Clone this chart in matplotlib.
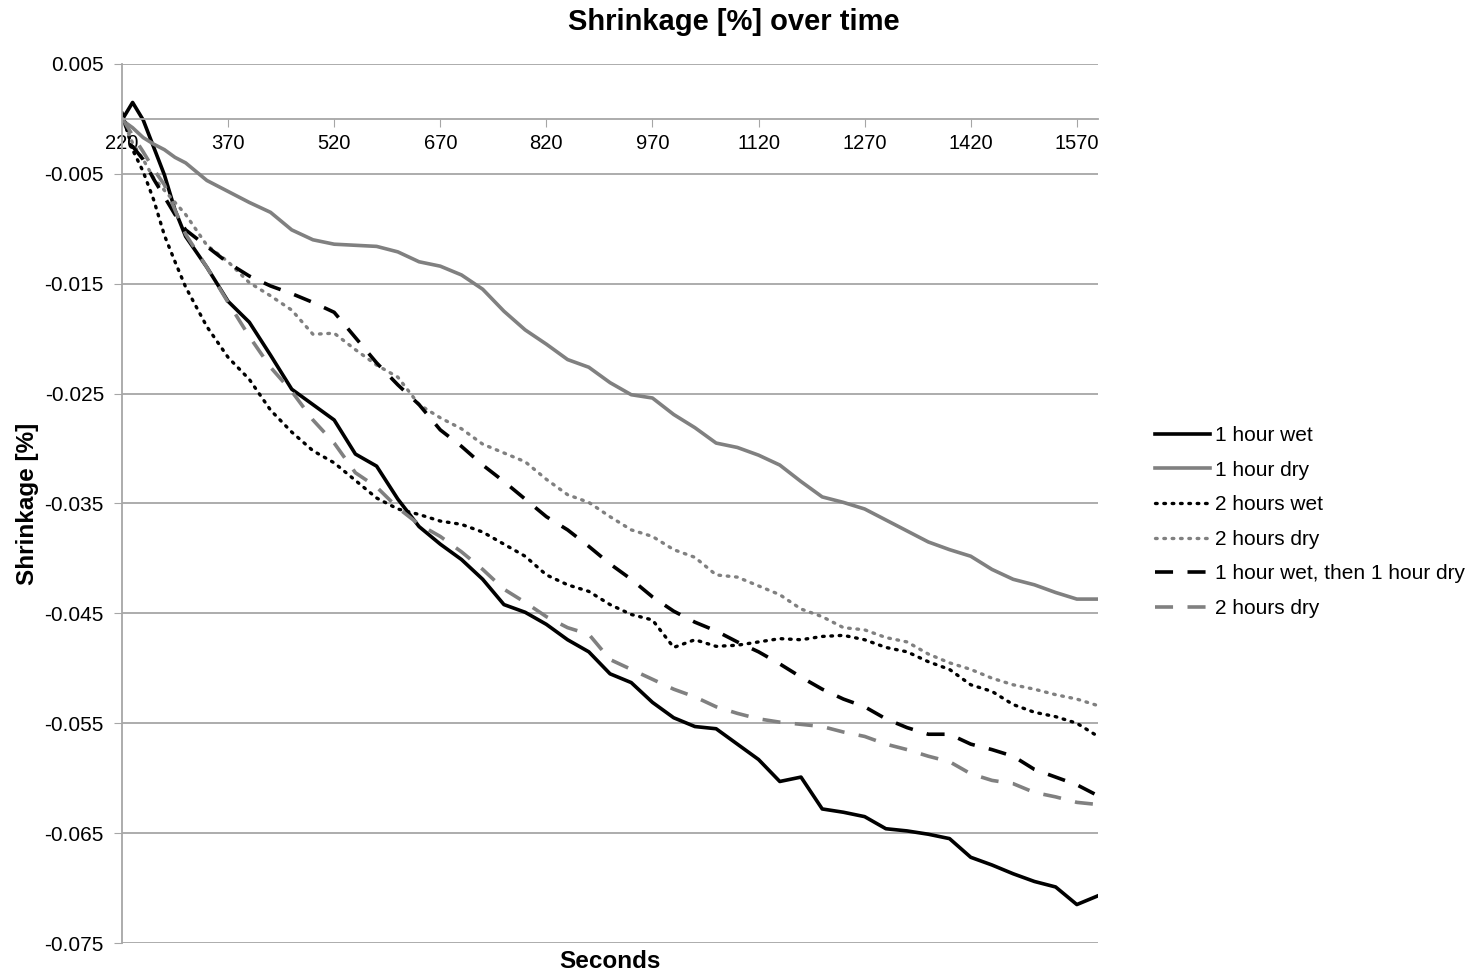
import numpy as np
import matplotlib.pyplot as plt

plt.rcParams['font.family'] = ['Liberation Sans', 'DejaVu Sans']

# time axis (seconds)
seconds = [220, 235, 250, 265, 280, 295, 310] + list(range(340, 1601, 30))

one_hour_wet = [-0.0001, 0.0015, -0.0001, -0.0026, -0.0051, -0.0083, -0.0107, -0.0135, -0.0166, -0.0185,
                -0.0215, -0.0246, -0.0260, -0.0274, -0.0305, -0.0316, -0.0346, -0.0371, -0.0387, -0.0401,
                -0.0419, -0.0442, -0.0449, -0.0460, -0.0474, -0.0485, -0.0505, -0.0513, -0.0531, -0.0545,
                -0.0553, -0.0555, -0.0569, -0.0583, -0.0603, -0.0599, -0.0628, -0.0631, -0.0635, -0.0646,
                -0.0648, -0.0651, -0.0655, -0.0672, -0.0679, -0.0687, -0.0694, -0.0699, -0.0715, -0.0707]

one_hour_dry = [-0.0001, -0.0008, -0.0017, -0.0023, -0.0028, -0.0035, -0.0040, -0.0056, -0.0066, -0.0076,
                -0.0085, -0.0101, -0.0110, -0.0114, -0.0115, -0.0116, -0.0121, -0.0130, -0.0134, -0.0142,
                -0.0155, -0.0175, -0.0192, -0.0205, -0.0219, -0.0226, -0.0240, -0.0251, -0.0254, -0.0269,
                -0.0281, -0.0295, -0.0299, -0.0306, -0.0315, -0.0330, -0.0344, -0.0349, -0.0355, -0.0365,
                -0.0375, -0.0385, -0.0392, -0.0398, -0.0410, -0.0419, -0.0424, -0.0431, -0.0437, -0.0437]

two_hours_wet = [0.0006, -0.0028, -0.0048, -0.0074, -0.0106, -0.0130, -0.0153, -0.0189, -0.0217, -0.0237,
                 -0.0265, -0.0285, -0.0302, -0.0313, -0.0329, -0.0345, -0.0355, -0.0360, -0.0366, -0.0369,
                 -0.0376, -0.0387, -0.0398, -0.0415, -0.0424, -0.0430, -0.0442, -0.0451, -0.0456, -0.0481,
                 -0.0474, -0.0480, -0.0479, -0.0476, -0.0473, -0.0474, -0.0471, -0.0470, -0.0474, -0.0481,
                 -0.0485, -0.0494, -0.0501, -0.0515, -0.0521, -0.0533, -0.0540, -0.0544, -0.0550, -0.0562]

two_hours_dry = [0.0001, -0.0022, -0.0037, -0.0054, -0.0065, -0.0076, -0.0087, -0.0115, -0.0130, -0.0149,
                 -0.0161, -0.0174, -0.0196, -0.0195, -0.0210, -0.0224, -0.0235, -0.0260, -0.0272, -0.0282,
                 -0.0296, -0.0304, -0.0312, -0.0328, -0.0342, -0.0349, -0.0362, -0.0374, -0.0380, -0.0392,
                 -0.0399, -0.0415, -0.0417, -0.0425, -0.0433, -0.0446, -0.0453, -0.0463, -0.0465, -0.0472,
                 -0.0476, -0.0487, -0.0495, -0.0501, -0.0509, -0.0515, -0.0519, -0.0524, -0.0528, -0.0534]

wet_then_dry = [0.0004, -0.0025, -0.0037, -0.0055, -0.0071, -0.0087, -0.0101, -0.0116, -0.0131, -0.0143,
                -0.0152, -0.0159, -0.0167, -0.0176, -0.0199, -0.0222, -0.0242, -0.0260, -0.0283, -0.0298,
                -0.0315, -0.0330, -0.0346, -0.0362, -0.0374, -0.0389, -0.0405, -0.0419, -0.0435, -0.0448,
                -0.0458, -0.0466, -0.0476, -0.0485, -0.0496, -0.0508, -0.0519, -0.0528, -0.0535, -0.0546,
                -0.0554, -0.0560, -0.0560, -0.0569, -0.0574, -0.0580, -0.0592, -0.0599, -0.0606, -0.0616]

two_hours_dry_b = [0.0001, -0.0015, -0.0030, -0.0046, -0.0060, -0.0083, -0.0105, -0.0135, -0.0167, -0.0198,
                   -0.0226, -0.0248, -0.0274, -0.0295, -0.0322, -0.0335, -0.0354, -0.0369, -0.0380, -0.0394,
                   -0.0410, -0.0428, -0.0440, -0.0453, -0.0463, -0.0469, -0.0492, -0.0501, -0.0510, -0.0519,
                   -0.0526, -0.0535, -0.0541, -0.0546, -0.0549, -0.0551, -0.0553, -0.0558, -0.0562, -0.0569,
                   -0.0574, -0.0580, -0.0585, -0.0596, -0.0602, -0.0605, -0.0613, -0.0617, -0.0622, -0.0624]

labels = ['1 hour wet', '1 hour dry', '2 hours wet', '2 hours dry',
          '1 hour wet, then 1 hour dry', '2 hours dry']

x_ticks = list(range(220, 1571, 150))
y_ticks = [0.005, -0.005, -0.015, -0.025, -0.035, -0.045, -0.055, -0.065, -0.075]

grey = '#808080'
grid_col = '#a6a6a6'
dots = (0, (0.5, 2.0))
dashes = (0, (5, 4))

fig = plt.figure(figsize=(14.68, 9.77), dpi=100)
ax = fig.add_axes([0.0831, 0.0348, 0.6649, 0.8997])

ax.plot(seconds, one_hour_wet, color='black', lw=2.6, label=labels[0])
ax.plot(seconds, one_hour_dry, color=grey, lw=2.6, label=labels[1])
ax.plot(seconds, two_hours_wet, color='black', lw=2.4, ls=dots,
        dash_capstyle='round', label=labels[2])
ax.plot(seconds, two_hours_dry, color=grey, lw=2.4, ls=dots,
        dash_capstyle='round', label=labels[3])
ax.plot(seconds, wet_then_dry, color='black', lw=2.6, ls=dashes, label=labels[4])
ax.plot(seconds, two_hours_dry_b, color=grey, lw=2.6, ls=dashes, label=labels[5])

ax.set_xlim(220, 1600)
ax.set_ylim(-0.075, 0.005)
ax.set_yticks(y_ticks)
ax.set_yticklabels(['%.3f' % v for v in y_ticks])
ax.set_xticks(x_ticks)
ax.set_xticklabels([str(v) for v in x_ticks])
ax.yaxis.grid(True, color=grid_col, lw=1.3)
ax.set_axisbelow(True)

ax.spines['top'].set_visible(False)
ax.spines['right'].set_visible(False)
ax.spines['left'].set_color(grid_col)
ax.spines['left'].set_linewidth(1.3)
ax.spines['bottom'].set_position(('data', 0))
ax.spines['bottom'].set_color(grid_col)
ax.spines['bottom'].set_linewidth(1.3)
ax.tick_params(axis='x', direction='out', length=6, color=grid_col, labelsize=14.5, pad=5)
ax.tick_params(axis='y', direction='out', length=6, color=grid_col, labelsize=15, pad=7)

# the x axis crosses at zero, so the axis title sits under the plot area
fig.text(0.4155, 0.0154, 'Seconds', ha='center', va='center',
         fontsize=17.5, fontweight='bold')
ax.set_ylabel('Shrinkage [%]', fontsize=17.5, fontweight='bold')
ax.yaxis.set_label_coords(-0.085, 0.5)
fig.text(0.5, 0.9775, 'Shrinkage [%] over time', ha='center', va='center',
         fontsize=21, fontweight='bold')

ax.legend(loc='center left', bbox_to_anchor=(0.7868, 0.4657), bbox_transform=fig.transFigure,
          frameon=False, fontsize=15, borderpad=0, borderaxespad=0,
          handlelength=2.65, handletextpad=0.25, labelspacing=0.75)

fig.savefig('out.png', dpi=100)
